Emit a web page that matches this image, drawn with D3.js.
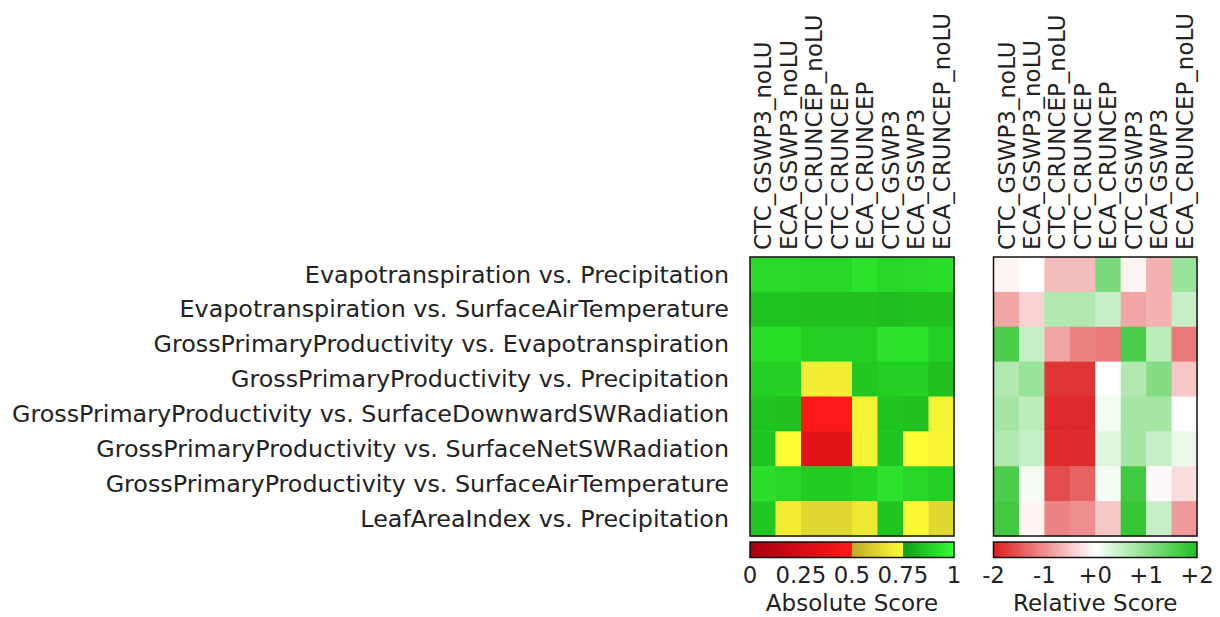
<!DOCTYPE html>
<html>
<head>
<meta charset="utf-8">
<script src="https://cdn.jsdelivr.net/npm/d3@7"></script>
<style>
  body { margin: 0; background: #fff; }
  text { font-family: "DejaVu Sans", sans-serif; fill: #222; }
</style>
</head>
<body>
<svg id="chart" width="1220" height="617"></svg>
<script>
const rows = [
  "Evapotranspiration vs. Precipitation",
  "Evapotranspiration vs. SurfaceAirTemperature",
  "GrossPrimaryProductivity vs. Evapotranspiration",
  "GrossPrimaryProductivity vs. Precipitation",
  "GrossPrimaryProductivity vs. SurfaceDownwardSWRadiation",
  "GrossPrimaryProductivity vs. SurfaceNetSWRadiation",
  "GrossPrimaryProductivity vs. SurfaceAirTemperature",
  "LeafAreaIndex vs. Precipitation"
];
const models = [
  "CTC_GSWP3_noLU", "ECA_GSWP3_noLU", "CTC_CRUNCEP_noLU", "CTC_CRUNCEP",
  "ECA_CRUNCEP", "CTC_GSWP3", "ECA_GSWP3", "ECA_CRUNCEP_noLU"
];
// Absolute scores (rows x models)
const absRow1 = [0.91, 0.91, 0.90, 0.90, 0.93, 0.90, 0.91, 0.92];
const absRow2 = [0.85, 0.85, 0.84, 0.84, 0.84, 0.83, 0.84, 0.84];
const absRow3 = [0.92, 0.92, 0.88, 0.88, 0.88, 0.93, 0.93, 0.88];
const absRow4 = [0.88, 0.88, 0.70, 0.70, 0.86, 0.88, 0.88, 0.84];
const absRow5 = [0.85, 0.84, 0.49, 0.49, 0.71, 0.85, 0.84, 0.71];
const absRow6 = [0.85, 0.74, 0.34, 0.34, 0.71, 0.85, 0.74, 0.72];
const absRow7 = [0.92, 0.90, 0.87, 0.87, 0.89, 0.93, 0.90, 0.88];
const absRow8 = [0.86, 0.70, 0.63, 0.63, 0.68, 0.85, 0.73, 0.63];
// Relative scores (rows x models)
const relRow1 = [-0.1, 0.0, -0.6, -0.6, 1.2, -0.1, -0.7, 0.9];
const relRow2 = [-0.8, -0.4, 0.7, 0.7, 0.5, -0.8, -0.7, 0.5];
const relRow3 = [1.6, 0.5, -0.8, -1.1, -1.2, 1.6, 0.6, -1.2];
const relRow4 = [0.7, 0.9, -1.8, -1.8, 0.0, 0.7, 1.1, -0.5];
const relRow5 = [0.8, 0.6, -1.9, -1.9, 0.1, 0.8, 0.8, 0.0];
const relRow6 = [0.7, 0.5, -1.9, -1.9, 0.3, 0.8, 0.5, 0.2];
const relRow7 = [1.6, 0.1, -1.6, -1.4, 0.1, 1.7, -0.05, -0.3];
const relRow8 = [1.7, -0.1, -1.1, -1.0, -0.5, 1.8, 0.5, -0.9];
const absTicks = ["0", "0.25", "0.5", "0.75", "1"];
const absTickValues = [0, 0.25, 0.5, 0.75, 1];
const relTicks = ["-2", "-1", "+0", "+1", "+2"];
const relTickValues = [-2, -1, 0, 1, 2];

const absData = [absRow1, absRow2, absRow3, absRow4, absRow5, absRow6, absRow7, absRow8];
const relData = [relRow1, relRow2, relRow3, relRow4, relRow5, relRow6, relRow7, relRow8];

// colour maps
const seg1 = d3.interpolateRgb("#a8000f", "#ff1a1a");
const seg2 = d3.interpolateRgb("#bfa92a", "#ffff35");
const seg3 = d3.interpolateRgb("#149c14", "#33ff33");
function absColor(v) {
  if (v < 0.5) return seg1(v / 0.5);
  if (v < 0.75) return seg2((v - 0.5) / 0.25);
  return seg3((v - 0.75) / 0.25);
}
const relScale = d3.scaleLinear().domain([-2, 0, 2]).range(["#dc1f1f", "#ffffff", "#1fc01f"]).clamp(true);

const svg = d3.select("#chart");
const mapTop = 257, mapBottom = 536;
const panels = [
  {x0: 750, x1: 954, data: absData, color: absColor, ticks: absTickValues, tickLabels: absTicks, dom: [0, 1], title: "Absolute Score"},
  {x0: 993.5, x1: 1197, data: relData, color: v => relScale(v), ticks: relTickValues, tickLabels: relTicks, dom: [-2, 2], title: "Relative Score"}
];

const y = d3.scaleBand().domain(rows).range([mapTop, mapBottom]);

// row labels
svg.append("g").selectAll("text").data(rows).join("text")
  .attr("x", 729).attr("y", d => y(d) + y.bandwidth() / 2)
  .attr("dy", "0.34em").attr("text-anchor", "end")
  .style("font-size", "23.8px").text(d => d);

const defs = svg.append("defs");

panels.forEach((p, pi) => {
  const x = d3.scaleBand().domain(models).range([p.x0, p.x1]);
  const g = svg.append("g");
  rows.forEach((r, ri) => {
    g.selectAll(null).data(p.data[ri]).join("rect")
      .attr("x", (d, ci) => x(models[ci]))
      .attr("y", y(r))
      .attr("width", x.bandwidth() + 0.5)
      .attr("height", y.bandwidth() + 0.5)
      .attr("fill", d => p.color(d));
  });
  g.append("rect").attr("x", p.x0).attr("y", mapTop).attr("width", p.x1 - p.x0).attr("height", mapBottom - mapTop)
    .attr("fill", "none").attr("stroke", "#111").attr("stroke-width", 1.5);

  // column labels
  g.selectAll(null).data(models).join("text")
    .attr("transform", d => `translate(${x(d) + x.bandwidth() / 2},250) rotate(-90)`)
    .attr("dy", "0.36em").attr("text-anchor", "start")
    .style("font-size", "23px").text(d => d);

  // colorbar
  const cx = d3.scaleLinear().domain(p.dom).range([p.x0, p.x1]);
  const gid = "grad" + pi;
  const grad = defs.append("linearGradient").attr("id", gid).attr("x1", "0%").attr("x2", "100%");
  const offs = d3.range(0, 101).map(i => i / 100);
  const stopList = [];
  offs.forEach(t => {
    const v = p.dom[0] + t * (p.dom[1] - p.dom[0]);
    stopList.push({o: t, c: p.color(Math.min(v, p.dom[1] - 1e-6))});
  });
  if (pi === 0) {
    [0.5, 0.75].forEach(b => {
      stopList.push({o: b - 1e-4, c: absColor(b - 1e-6)});
      stopList.push({o: b, c: absColor(b)});
    });
  }
  stopList.sort((a, b) => a.o - b.o);
  grad.selectAll("stop").data(stopList).join("stop")
    .attr("offset", d => (d.o * 100) + "%").attr("stop-color", d => d.c);

  svg.append("rect").attr("x", p.x0).attr("y", 542).attr("width", p.x1 - p.x0).attr("height", 15.5)
    .attr("fill", `url(#${gid})`).attr("stroke", "#111").attr("stroke-width", 1.5);

  svg.append("g").selectAll("text").data(p.ticks).join("text")
    .attr("x", d => cx(d)).attr("y", 583).attr("text-anchor", "middle")
    .style("font-size", "22.8px").text((d, i) => p.tickLabels[i]);

  svg.append("text").attr("x", (p.x0 + p.x1) / 2).attr("y", 611).attr("text-anchor", "middle")
    .style("font-size", "23px").text(p.title);
});
</script>
</body>
</html>
